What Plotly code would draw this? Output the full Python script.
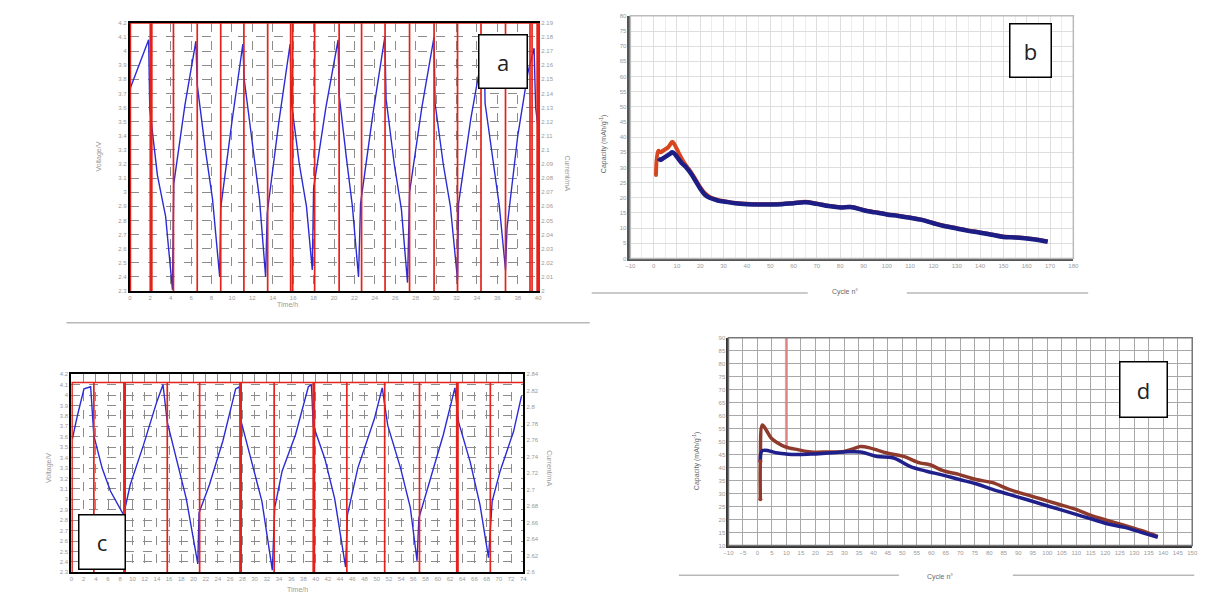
import plotly.graph_objects as go

# ---------------- data ----------------
# Panel a: voltage vs time (h)
a_time = [0, 0.8, 1.84, 1.95, 2.7, 3.5, 4.17, 4.3, 5.4, 6.47, 6.6, 7.4, 8.1, 8.8, 8.9, 10.0, 11.07,
          11.2, 12.0, 12.7, 13.3, 13.45, 14.6, 15.7, 15.85, 16.6, 17.3, 17.87, 18.0, 19.2, 20.4,
          20.5, 21.2, 21.8, 22.4, 22.6, 23.8, 24.98, 25.1, 25.9, 26.6, 27.2, 27.4, 28.6, 29.8,
          29.9, 30.7, 31.4, 32.1, 32.2, 33.4, 34.7, 34.8, 35.6, 36.2, 36.8, 36.95, 38.0, 39.0,
          39.6, 39.75, 40.0]
a_volt = [3.73, 3.88, 4.08, 3.59, 3.12, 2.83, 2.31, 3.06, 3.62, 4.07, 3.76, 3.30, 2.95, 2.40, 2.89, 3.50, 4.05,
          3.80, 3.35, 2.95, 2.40, 2.85, 3.50, 4.05, 3.62, 3.20, 2.90, 2.45, 3.03, 3.60, 4.08,
          3.69, 3.25, 2.90, 2.40, 2.92, 3.55, 4.10, 3.66, 3.20, 2.88, 2.36, 3.00, 3.60, 4.10,
          3.63, 3.20, 2.90, 2.38, 2.92, 3.52, 4.05, 3.63, 3.20, 2.90, 2.45, 2.75, 3.40, 3.85,
          4.02, 3.60, 3.45]
a_current_hi, a_current_lo = 2.19, 2.0
a_switch = [0.05, 2.0, 2.15, 4.27, 6.6, 8.9, 11.17, 13.5, 15.75, 15.95, 18.1, 20.5, 22.7, 25.0,
            27.4, 29.8, 32.1, 34.4, 36.8, 39.2, 39.4, 39.9]

# Panel c: voltage vs time (h)
c_time = [0.16, 0.97, 2.06, 3.15, 3.68, 5.03, 6.39, 8.55, 9.63, 11.8, 13.95, 15.0,
          15.7, 17.2, 18.8, 20.7, 20.9, 22.6, 24.8, 26.9, 27.5,
          27.7, 29.1, 31.2, 32.9, 33.3, 34.5, 36.7, 38.8, 39.3,
          39.6, 41.5, 43.1, 44.9, 45.2, 46.9, 49.6, 50.9,
          51.8, 53.9, 55.5, 56.6, 56.9, 58.8, 60.9, 62.8,
          63.4, 65.3, 66.9, 68.3, 68.9, 70.2, 72.4, 73.7]
c_volt = [3.58, 3.80, 4.06, 4.08, 3.61, 3.30, 3.08, 2.85, 3.14, 3.52, 3.93, 4.10,
          3.74, 3.39, 3.01, 2.38, 2.87, 3.14, 3.56, 4.06, 4.08,
          3.77, 3.46, 2.98, 2.32, 2.92, 3.27, 3.62, 4.08, 4.10,
          3.71, 3.39, 3.01, 2.35, 2.85, 3.30, 3.77, 4.07,
          3.71, 3.30, 2.92, 2.41, 2.82, 3.20, 3.62, 4.07,
          3.74, 3.36, 2.95, 2.44, 2.98, 3.27, 3.65, 3.99]
c_current_hi, c_current_lo = 2.83, 2.6
c_switch = [0.1, 3.68, 8.6, 8.8, 15.7, 21.0, 27.6, 27.8, 33.2, 39.6, 39.8, 45.1, 51.3, 57.0,
            63.1, 63.3, 68.6]

# Panel b: capacity vs cycle
b_cycle = [1, 2, 3, 4, 5, 6, 7, 8, 9, 10, 12, 14, 16, 18, 20, 22, 24, 26, 28, 30, 35, 40, 45, 50,
           55, 60, 65, 70, 75, 80, 85, 90, 95, 100, 105, 110, 115, 120, 125, 130, 135, 140, 145,
           150, 155, 160, 165, 169]
b_discharge = [34, 33, 32.5, 33, 33.5, 34, 34.5, 35, 34.5, 33.5, 31.5, 30, 28, 25.5, 23, 21, 20,
               19.5, 19, 18.8, 18.2, 17.9, 17.8, 17.8, 17.9, 18.2, 18.5, 18, 17.3, 16.8, 16.9,
               15.9, 15.2, 14.5, 14, 13.4, 12.7, 11.6, 10.6, 9.9, 9.1, 8.5, 7.8, 7.1, 6.9, 6.6,
               6.1, 5.5]
b_charge = [27.5, 35.5, 35, 35.5, 36, 36.5, 37.5, 38.5, 37.5, 36, 33, 30.5, 28.5, 26, 23.5, 21.5,
            20.3, 19.7, 19.2, 18.9, 18.3, 18, 17.9, 17.9, 18, 18.3, 18.7, 18.1, 17.4, 16.9, 17,
            16, 15.3, 14.6, 14.1, 13.5, 12.8, 11.7, 10.7, 10, 9.2, 8.6, 7.9, 7.2, 7, 6.7, 6.2, 5.6]

# Panel d: capacity vs cycle
d_cycle_charge = [1, 1, 1.7, 3, 4.8, 7, 9.4, 13.9, 18.5, 24.2, 29.9, 33, 35.6, 39, 44.7, 50.4,
                  56, 59.5, 64, 69.7, 75.4, 81.1, 86.8, 92.5, 98.2, 103.9, 109.6, 115.3, 121,
                  126.7, 132.4, 138.1]
d_charge = [27.8, 42.4, 56.4, 54.5, 51.3, 49.5, 48.1, 46.9, 46, 46, 46.2, 47.2, 48.1, 47.5, 45.6,
            44.3, 41.8, 41.1, 38.8, 37.3, 35.4, 34.2, 31.6, 29.7, 27.8, 25.9, 24, 21.5, 19.6,
            17.7, 15.8, 13.5]
d_cycle_discharge = [1, 1.7, 7.1, 12.8, 18.5, 24.2, 29.9, 35.6, 41.3, 47, 52.6, 58.3, 64, 69.7,
                     75.4, 81.1, 86.8, 92.5, 98.2, 103.9, 109.6, 115.3, 121, 126.7, 132.4, 138.1]
d_discharge = [42.4, 46.5, 45.6, 45, 45.2, 45.6, 46, 46, 44.3, 43.7, 40.5, 38.6, 37.1, 35.4, 33.8,
               31.6, 29.7, 27.8, 25.9, 24, 22.1, 20.2, 18.3, 17, 15.1, 13.2]
d_spike_cycle = [10, 10]
d_spike_cap = [47, 90]

# ---------------- layout helpers ----------------
W, H = 1226, 604
def xd(a, b):
    return [a / W, b / W]
def yd(top, bottom):
    return [1 - bottom / H, 1 - top / H]

def spikes(times, hi, lo, t0, t1):
    xs, ys = [t0], [hi]
    for t in times:
        xs += [t, t, t]
        ys += [hi, lo, hi]
    xs.append(t1)
    ys.append(hi)
    return xs, ys

BLUE = "#2b2bd6"
RED = "#e3231b"
TICKF = dict(size=6, color="#9a9a9a", family="Arial")

fig = go.Figure()

# Panel a
axs, ays = spikes(a_switch, a_current_hi, a_current_lo, 0, 40)
fig.add_trace(go.Scatter(x=axs, y=ays, xaxis="x", yaxis="y5", mode="lines",
                         line=dict(color=RED, width=1.7), showlegend=False))
fig.add_trace(go.Scatter(x=a_time, y=a_volt, xaxis="x", yaxis="y", mode="lines",
                         line=dict(color=BLUE, width=1.4), showlegend=False))
# Panel c
cxs, cys = spikes(c_switch, c_current_hi, c_current_lo, 0, 74)
fig.add_trace(go.Scatter(x=cxs, y=cys, xaxis="x3", yaxis="y6", mode="lines",
                         line=dict(color=RED, width=1.7), showlegend=False))
fig.add_trace(go.Scatter(x=c_time, y=c_volt, xaxis="x3", yaxis="y3", mode="lines",
                         line=dict(color=BLUE, width=1.4), showlegend=False))
# Panel b
fig.add_trace(go.Scatter(x=b_cycle, y=b_charge, xaxis="x2", yaxis="y2", mode="lines",
                         line=dict(color="#d8461f", width=4, shape="spline"), showlegend=False))
fig.add_trace(go.Scatter(x=b_cycle[1:], y=b_discharge[1:], xaxis="x2", yaxis="y2", mode="lines",
                         line=dict(color="#1d1d86", width=4.5, shape="spline"), showlegend=False))
fig.add_trace(go.Scatter(x=b_cycle[:1], y=b_charge[:1], xaxis="x2", yaxis="y2", mode="markers",
                         marker=dict(color="#c0502a", size=4), showlegend=False))
# Panel d
fig.add_trace(go.Scatter(x=d_spike_cycle, y=d_spike_cap, xaxis="x4", yaxis="y4", mode="lines",
                         line=dict(color="rgba(235,120,120,0.75)", width=3), showlegend=False))
fig.add_trace(go.Scatter(x=d_cycle_charge, y=d_charge, xaxis="x4", yaxis="y4", mode="lines",
                         line=dict(color="#8e3a2c", width=3.5, shape="spline"), showlegend=False))
fig.add_trace(go.Scatter(x=d_cycle_discharge, y=d_discharge, xaxis="x4", yaxis="y4", mode="lines",
                         line=dict(color="#20208c", width=3.5, shape="spline"), showlegend=False))
fig.add_trace(go.Scatter(x=d_cycle_charge[:2], y=d_charge[:2], xaxis="x4", yaxis="y4", mode="markers",
                         marker=dict(color="#9a3a2c", size=4), showlegend=False))

dashgrid = dict(showgrid=True, gridcolor="#8c8c8c", griddash="dash", gridwidth=1)
common_tick = dict(tickfont=TICKF, ticks="", zeroline=False)

layout = dict(
    width=W, height=H, margin=dict(l=0, r=0, t=0, b=0),
    paper_bgcolor="white", plot_bgcolor="white", showlegend=False,
    # a
    xaxis=dict(domain=xd(126, 538), anchor="y", range=[0, 40], tickvals=list(range(0, 41, 2)),
               showline=True, linecolor="black", linewidth=2, mirror=True, **dashgrid, **common_tick),
    yaxis=dict(domain=yd(20, 291), anchor="x", range=[2.3, 4.2],
               tickvals=[round(2.3 + 0.1 * i, 1) for i in range(20)],
               showline=True, linecolor="black", linewidth=2, **dashgrid, **common_tick),
    yaxis5=dict(overlaying="y", side="right", anchor="x", range=[2.0, 2.19],
                tickvals=[round(2.0 + 0.01 * i, 2) for i in range(20)],
                showline=True, linecolor=RED, linewidth=2, showgrid=False, **common_tick),
    # c
    xaxis3=dict(domain=xd(67, 523), anchor="y3", range=[0, 74], tickvals=list(range(0, 75, 2)),
                showline=True, linecolor="black", linewidth=2, mirror=True, **dashgrid, **common_tick),
    yaxis3=dict(domain=yd(375, 575), anchor="x3", range=[2.3, 4.2],
                tickvals=[round(2.3 + 0.1 * i, 1) for i in range(20)],
                showline=True, linecolor="black", linewidth=2, **dashgrid, **common_tick),
    yaxis6=dict(overlaying="y3", side="right", anchor="x3", range=[2.6, 2.84],
                tickvals=[round(2.6 + 0.02 * i, 2) for i in range(13)],
                showline=True, linecolor="black", linewidth=2, showgrid=False, **common_tick),
    # b
    xaxis2=dict(domain=xd(631, 1078), anchor="y2", range=[-10, 180], dtick=10, tick0=-10,
                showline=True, linecolor="#555", linewidth=2.5,
                showgrid=True, gridcolor="#dedede", gridwidth=1,
                minor=dict(dtick=5, showgrid=True, gridcolor="#ececec"), **common_tick),
    yaxis2=dict(domain=yd(13, 258), anchor="x2", range=[0, 80], dtick=5,
                showline=True, linecolor="#555", linewidth=2.5,
                showgrid=True, gridcolor="#dedede", gridwidth=1, **common_tick),
    # d
    xaxis4=dict(domain=xd(730, 1198), anchor="y4", range=[-10, 150], dtick=5, tick0=-10,
                showline=True, linecolor="#333", linewidth=2,
                showgrid=True, gridcolor="#a8a8a8", gridwidth=1, **common_tick),
    yaxis4=dict(domain=yd(338, 548), anchor="x4", range=[10, 90], dtick=5,
                showline=True, linecolor="#333", linewidth=2,
                showgrid=True, gridcolor="#a8a8a8", gridwidth=1, **common_tick),
)
fig.update_layout(**layout)

# plot frames for b and d (top/right border)
shapes = [
    dict(type="rect", xref="x2 domain", yref="y2 domain", x0=0, x1=1, y0=0, y1=1,
         line=dict(color="#bbbbbb", width=1.5)),
    dict(type="rect", xref="x4 domain", yref="y4 domain", x0=0, x1=1, y0=0, y1=1,
         line=dict(color="#777777", width=1.5)),
]
# separator lines
def hline(x0, x1, y):
    return dict(type="line", xref="paper", yref="paper", x0=x0 / W, x1=x1 / W,
                y0=1 - y / H, y1=1 - y / H, line=dict(color="#b8b8b8", width=1.5))
shapes += [hline(62, 590, 323), hline(592, 810, 293), hline(910, 1093, 293),
           hline(680, 902, 578), hline(1017, 1200, 578)]
fig.update_layout(shapes=shapes)

ann = []
def label(text, cx, cy, w, h):
    ann.append(dict(text=text, xref="paper", yref="paper", x=cx / W, y=1 - cy / H,
                    showarrow=False, width=w, height=h, bgcolor="white",
                    bordercolor="black", borderwidth=1.5, borderpad=0,
                    font=dict(size=22, color="#222", family="Open Sans"),
                    xanchor="center", yanchor="middle", valign="middle", align="center"))
label("a", 503, 59, 47, 52)
label("b", 1035, 48, 40, 52)
label("c", 98, 544, 45, 53)
label("d", 1149, 390, 46, 54)

def title(text, cx, cy, angle=0, size=7, color="#9a9a9a"):
    ann.append(dict(text=text, xref="paper", yref="paper", x=cx / W, y=1 - cy / H,
                    showarrow=False, textangle=angle, font=dict(size=size, color=color, family="Arial"),
                    xanchor="center", yanchor="middle"))
title("Voltage/V", 95, 155, -90)
title("Current/mA", 568, 172, 90)
title("Time/h", 285, 305)
title("Voltage/V", 45, 470, -90)
title("Current/mA", 550, 470, 90)
title("Time/h", 295, 592)
title("Capacity (mAh/g<sup>-1</sup>)", 604, 143, -90, 7, "#666")
title("Cycle n°", 848, 292, 0, 7, "#666")
title("Capacity (mAh/g<sup>-1</sup>)", 698, 463, -90, 7, "#666")
title("Cycle n°", 943, 580, 0, 7, "#666")
fig.update_layout(annotations=ann)

fig.write_html("out.html")
